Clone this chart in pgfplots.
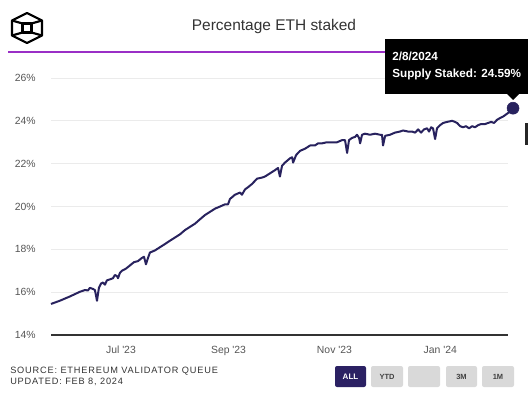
\documentclass[border=0pt]{standalone}
\usepackage{pgfplots}
\pgfplotsset{compat=1.18}
\usepackage{fontspec}
\setmainfont{Liberation Sans}
\newfontfamily\srcfont[LetterSpace=9]{Liberation Sans}
\definecolor{navy}{HTML}{28225E}
\definecolor{purp}{HTML}{9A2FC6}
\definecolor{gridc}{HTML}{EBEBEB}
\definecolor{tickc}{HTML}{555555}
\definecolor{btn}{HTML}{D9D9D9}
\definecolor{btnall}{HTML}{2B2163}
\begin{document}
\begin{tikzpicture}[x=0.75pt,y=0.75pt]
\path[use as bounding box] (0,0) rectangle (528,397);
% logo
\begin{scope}[line width=1.6pt,black,line join=round]
\draw (27,384) -- (42,376.5) -- (42,361.5) -- (27,354) -- (12,361.5) -- (12,376.5) -- cycle;
\draw (22.5,373.5) rectangle (31.5,364.5);
\draw (12,376.5) -- (22.5,373.5) (42,376.5) -- (31.5,373.5) (12,361.5) -- (22.5,364.5) (42,361.5) -- (31.5,364.5);
\end{scope}
% title
\node[text=black!80,font=\fontsize{11.6pt}{13pt}\selectfont] at (274,370) {Percentage ETH staked};
\draw[purp,line width=1.5pt] (8,345) -- (386,345);
\begin{axis}[
  at={(38.25pt,46.5pt)}, anchor=south west,
  scale only axis, width=342.75pt, height=192.75pt,
  xmin=-40.3, xmax=223, ymin=14, ymax=26,
  clip=false,
  axis x line*=bottom, axis y line*=left,
  x axis line style={draw=black!80, line width=0.8pt, -},
  y axis line style={draw=none},
  ymajorgrids, grid style={gridc, line width=0.7pt},
  ytick={14,16,...,26},
  xtick={0,62,123,184},
  xticklabels={Jul \textquotesingle23,Sep \textquotesingle23,Nov \textquotesingle23,Jan \textquotesingle24},
  major tick length=0pt,
  /pgf/number format/assume math mode=true,
  yticklabel={\pgfmathprintnumber{\tick}\%},
  yticklabel style={text=tickc,font=\fontsize{7.8pt}{9pt}\selectfont, anchor=east, xshift=-8pt},
  xticklabel style={text=tickc,font=\fontsize{7.8pt}{9pt}\selectfont, yshift=-5pt},
  ytick style={draw=none}, xtick style={draw=none},
]
\addplot[navy, line width=1.5pt, line join=round, mark=none] coordinates {
(-40.3,15.45) (-35.2,15.6) (-29.4,15.8) (-23.6,16.02) (-20.7,16.1) (-19.0,16.08) (-17.9,16.2) (-16.1,16.15) (-15.0,16.1) (-13.8,15.6) (-12.7,16.2) (-11.5,16.4) (-10.4,16.45) (-9.2,16.35) (-8.1,16.55) (-6.3,16.6) (-4.6,16.65) (-3.5,16.8) (-2.3,16.75) (-1.7,16.65) (-0.6,16.9)
(0.6,17.0) (2.9,17.1) (5.2,17.25) (7.5,17.4) (9.8,17.45) (12.1,17.6) (13.3,17.65) (14.4,17.3) (15.6,17.6) (16.7,17.85) (19.6,17.95) (22.5,18.1) (25.4,18.25) (28.2,18.4) (31.1,18.55) (34.0,18.7) (36.9,18.9) (39.8,19.05) (42.7,19.2) (45.5,19.4) (48.4,19.6) (51.3,19.75) (54.2,19.9) (57.1,20.0) (59.9,20.1) (61.7,20.1)
(62.8,20.35) (65.7,20.55) (68.6,20.65) (69.7,20.55) (71.5,20.8) (73.2,20.9) (75.5,21.05) (78.4,21.3) (81.3,21.35) (83.0,21.4) (85.9,21.55) (88.8,21.7) (90.5,21.8) (91.6,21.4) (92.8,21.9) (94.5,22.05) (97.4,22.25) (98.6,22.3) (99.2,22.05) (100.9,22.4) (103.2,22.6) (106.1,22.7) (109.0,22.85) (111.8,22.85) (113.6,22.95) (115.9,22.95) (118.7,23.0) (121.6,23.0)
(124.5,23.0) (127.4,23.1) (129.1,23.1) (130.3,22.5) (131.4,23.1) (133.1,23.2) (134.9,23.25) (136.0,23.35) (137.2,23.2) (137.8,22.95) (138.9,23.35) (140.6,23.4) (143.5,23.35) (146.4,23.4) (149.3,23.35) (150.4,23.35) (151.0,22.85) (152.2,23.3) (155.0,23.35) (157.9,23.45) (160.8,23.5) (162.5,23.55) (165.4,23.5) (167.7,23.5) (169.5,23.45) (171.2,23.6) (172.9,23.45) (174.6,23.6) (176.4,23.65) (177.5,23.5) (178.7,23.7) (179.8,23.65) (181.0,23.15)
(182.1,23.65) (183.9,23.8) (185.6,23.9) (187.9,23.95) (190.8,24.0) (192.5,23.95) (193.7,23.9) (195.4,23.75) (197.1,23.7) (198.8,23.75) (200.6,23.65) (202.3,23.75) (204.0,23.7) (205.8,23.8) (207.5,23.85) (209.8,23.85) (211.5,23.9) (213.3,23.95) (215.0,23.9) (216.7,24.05) (218.4,24.13) (220.2,24.2) (221.9,24.3) (223.6,24.4) (225.9,24.59)
};
\addplot[navy, only marks, mark=*, mark size=4.5pt] coordinates {(225.9,24.59)};
\end{axis}
% tooltip
\fill[black] (385,358) rectangle (530,303);
\fill[black] (507,303) -- (519,303) -- (513,297) -- cycle;
\node[anchor=west,text=white,font=\bfseries\fontsize{8.8pt}{10pt}\selectfont,inner sep=0pt] at (392,341) {2/8/2024};
\node[anchor=west,text=white,font=\bfseries\fontsize{8.8pt}{10pt}\selectfont,inner sep=0pt] at (392,323) {Supply Staked: 24.59\%};
\fill[black!85] (525,274) rectangle (528,252);
% source
\node[anchor=west,inner sep=0pt,text=black!80,font=\srcfont\fontsize{6.9pt}{8pt}\selectfont] at (10,26) {SOURCE: ETHEREUM VALIDATOR QUEUE};
\node[anchor=west,inner sep=0pt,text=black!80,font=\srcfont\fontsize{6.9pt}{8pt}\selectfont] at (10,15) {UPDATED: FEB 8, 2024};
% buttons
\fill[btnall,rounded corners=1.5pt] (335,31) rectangle (366,10);
\node[text=white,font=\bfseries\fontsize{6pt}{7pt}\selectfont] at (350.5,20.5) {ALL};
\fill[btn,rounded corners=1.5pt] (371,31) rectangle (403,10);
\node[text=black!75,font=\bfseries\fontsize{5.6pt}{7pt}\selectfont] at (387,20.5) {YTD};
\fill[btn,rounded corners=1.5pt] (408,31) rectangle (440,10);
\fill[btn,rounded corners=1.5pt] (446,31) rectangle (477,10);
\node[text=black!75,font=\bfseries\fontsize{5.6pt}{7pt}\selectfont] at (461.5,20.5) {3M};
\fill[btn,rounded corners=1.5pt] (482,31) rectangle (514,10);
\node[text=black!75,font=\bfseries\fontsize{5.6pt}{7pt}\selectfont] at (498,20.5) {1M};
\end{tikzpicture}
\end{document}
